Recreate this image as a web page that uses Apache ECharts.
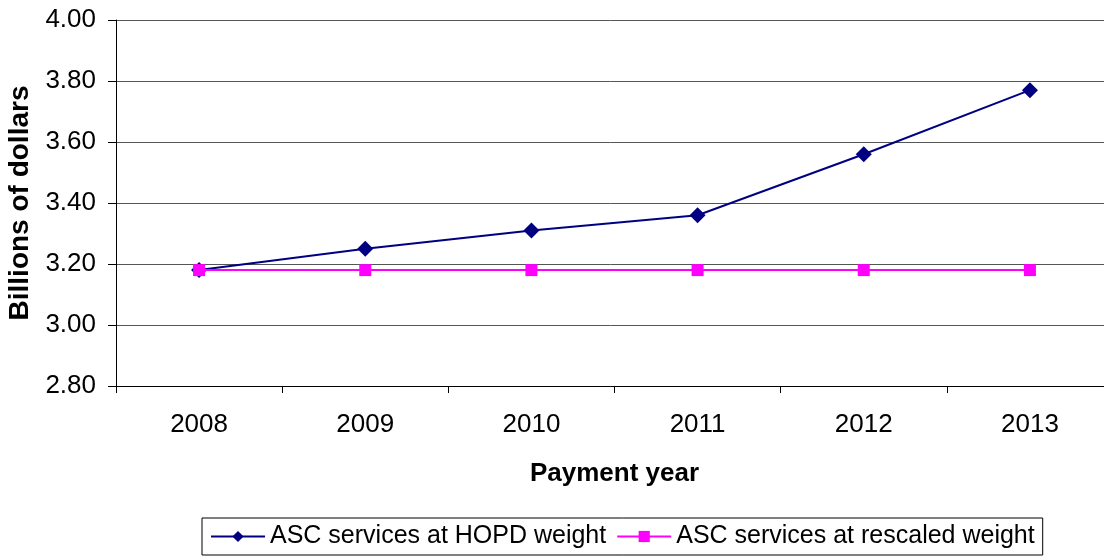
<!DOCTYPE html>
<html>
<head>
<meta charset="utf-8">
<script src="https://cdn.jsdelivr.net/npm/echarts@6/dist/echarts.min.js"></script>
<style>
  html, body { margin: 0; padding: 0; background: #fff; }
  #chart { width: 1104px; height: 559px; }
</style>
</head>
<body>
<div id="chart"></div>
<script>
const years = ["2008", "2009", "2010", "2011", "2012", "2013"];
const hopdWeight = [3.18, 3.25, 3.31, 3.36, 3.56, 3.77];
const rescaledWeight = [3.18, 3.18, 3.18, 3.18, 3.18, 3.18];
const seriesNames = ["ASC services at HOPD weight", "ASC services at rescaled weight"];

const fontFamily = "Liberation Sans, Arial, sans-serif";

const chart = echarts.init(document.getElementById("chart"));
const option = {
  backgroundColor: "#fff",
  animation: false,
  textStyle: { fontFamily: fontFamily, color: "#000" },
  grid: {
    left: 116,
    top: 20,
    width: 997,
    bottom: 173,
    containLabel: false,
    outerBoundsMode: "none"
  },
  legend: {
    data: seriesNames,
    left: 202,
    top: 518,
    padding: [6, 8],
    itemWidth: 54,
    itemHeight: 14,
    itemGap: 10,
    borderColor: "#000",
    borderWidth: 1,
    textStyle: { fontSize: 25, color: "#000", fontFamily: fontFamily }
  },
  xAxis: {
    type: "category",
    data: years,
    boundaryGap: true,
    name: "Payment year",
    nameLocation: "middle",
    nameGap: 75,
    nameTextStyle: { fontSize: 26, fontWeight: "bold", color: "#000" },
    axisLine: { lineStyle: { color: "#000", width: 1 } },
    axisTick: { show: true, length: 7, lineStyle: { color: "#000" } },
    axisLabel: { fontSize: 26, color: "#000", margin: 26 },
    splitLine: { show: false }
  },
  yAxis: {
    type: "value",
    min: 2.8,
    max: 4.0,
    interval: 0.2,
    name: "Billions of dollars",
    nameLocation: "middle",
    nameGap: 80,
    nameRotate: 90,
    nameTextStyle: { fontSize: 28, fontWeight: "bold", color: "#000" },
    axisLine: { show: true, lineStyle: { color: "#000", width: 1 } },
    axisTick: { show: true, length: 8, inside: false, lineStyle: { color: "#000" } },
    axisLabel: {
      fontSize: 26,
      color: "#000",
      margin: 20,
      formatter: v => v.toFixed(2)
    },
    splitLine: { show: true, lineStyle: { color: "#555", width: 1 } }
  },
  series: [
    {
      name: seriesNames[0],
      type: "line",
      data: hopdWeight,
      symbol: "diamond",
      symbolSize: 16,
      lineStyle: { color: "#000080", width: 2 },
      itemStyle: { color: "#000080" },
      z: 2
    },
    {
      name: seriesNames[1],
      type: "line",
      data: rescaledWeight,
      symbol: "rect",
      symbolSize: 12,
      lineStyle: { color: "#ff00ff", width: 2 },
      itemStyle: { color: "#ff00ff" },
      z: 3
    }
  ]
};
chart.setOption(option);
</script>
</body>
</html>
